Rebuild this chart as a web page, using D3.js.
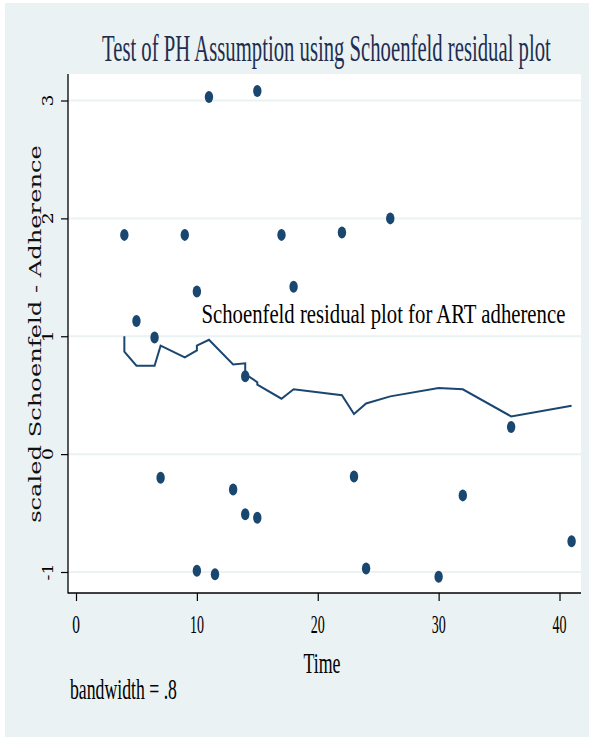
<!DOCTYPE html>
<html><head><meta charset="utf-8">
<script src="https://cdn.jsdelivr.net/npm/d3@7"></script>
<style>body{margin:0;background:#fff}svg{display:block}</style>
</head><body><svg id="c" width="589" height="737"></svg>
<script>
// ---- data ----
const pointTime  = [4, 9, 11, 15, 17, 22, 26, 18, 10, 5, 6.5, 14, 36, 7, 13, 14, 15, 23, 32, 10, 11.5, 24, 30, 41];
const pointResid = [1.86, 1.86, 3.03, 3.08, 1.86, 1.88, 2.0, 1.42, 1.38, 1.13, 0.99, 0.66, 0.23, -0.20, -0.30, -0.51, -0.54, -0.19, -0.35, -0.99, -1.02, -0.97, -1.04, -0.74];
const smoothTime  = [4, 4, 5, 6.5, 7, 9, 10, 10, 11, 13, 14, 14, 15, 15, 17, 18, 22, 23, 24, 26, 30, 32, 36, 41];
const smoothResid = [1.0, 0.87, 0.75, 0.75, 0.92, 0.82, 0.88, 0.92, 0.97, 0.76, 0.77, 0.68, 0.61, 0.59, 0.47, 0.55, 0.50, 0.34, 0.43, 0.49, 0.56, 0.55, 0.32, 0.41];
const xTicks = [0, 10, 20, 30, 40];
const xTickLabels = ["0", "10", "20", "30", "40"];
const yTicks = [-1, 0, 1, 2, 3];
const yTickLabels = ["-1", "0", "1", "2", "3"];
const titleText = "Test of PH Assumption using Schoenfeld residual plot";
const xTitle = "Time";
const yTitle = "scaled Schoenfeld - Adherence";
const annotation = "Schoenfeld residual plot for ART adherence";
const note = "bandwidth = .8";

// ---- drawing ----
const svg = d3.select("#c");
const bg = "#eaf2f3", navy = "#1a476f";
const plot = {l: 68, r: 581, t: 74, b: 593};

svg.append("rect").attr("x", 5).attr("y", 3).attr("width", 584).attr("height", 734).attr("fill", bg);
svg.append("rect").attr("x", plot.l).attr("y", plot.t).attr("width", plot.r - plot.l).attr("height", plot.b - plot.t).attr("fill", "#fff");

const x = d3.scaleLinear().domain([0, 40]).range([76, 559.5]);
const y = d3.scaleLinear().domain([-1, 3]).range([572, 100.5]);

// text helper: natural font gives glyph height; horizontal squeeze via scale to hit target width
function fitText(g, str, opts) {
  const t = g.append("text")
    .attr("font-family", opts.family || "Liberation Serif")
    .attr("font-size", opts.size)
    .attr("fill", opts.fill || "#000")
    .attr("text-anchor", opts.anchor || "start")
    .text(str);
  const w = t.node().getComputedTextLength();
  const sx = opts.width / w;
  t.attr("transform", `translate(${opts.x},${opts.y}) rotate(${opts.rotate || 0}) scale(${sx},1)`);
  return t;
}

// gridlines
svg.append("g").selectAll("line").data(yTicks).join("line")
  .attr("x1", plot.l).attr("x2", plot.r)
  .attr("y1", d => y(d)).attr("y2", d => y(d))
  .attr("stroke", bg).attr("stroke-width", 2);

// axes
const xAxis = d3.axisBottom(x).tickValues(xTicks).tickSize(8).tickFormat(() => "");
const gx = svg.append("g").attr("transform", `translate(0,${plot.b})`).call(xAxis);
gx.select(".domain").remove();
gx.selectAll(".tick line").attr("stroke", "#000").attr("stroke-width", 1.2);
const yAxis = d3.axisLeft(y).tickValues(yTicks).tickSize(7).tickFormat(() => "");
const gy = svg.append("g").attr("transform", `translate(${plot.l},0)`).call(yAxis);
gy.select(".domain").remove();
gy.selectAll(".tick line").attr("stroke", "#000").attr("stroke-width", 1.2);

svg.append("line").attr("x1", plot.l).attr("x2", plot.l).attr("y1", plot.t).attr("y2", plot.b + 0.5)
  .attr("stroke", "#000").attr("stroke-width", 1.3);
svg.append("line").attr("x1", plot.l).attr("x2", plot.r).attr("y1", plot.b).attr("y2", plot.b)
  .attr("stroke", "#000").attr("stroke-width", 1.3);

// x tick labels
const xLabW = {1: 7.7, 2: 14};
const gxl = svg.append("g");
xTicks.forEach((d, i) => fitText(gxl, xTickLabels[i], {x: x(d), y: 633, size: 25, anchor: "middle", width: xLabW[xTickLabels[i].length]}));

// y tick labels (rotated)
const gyl = svg.append("g");
yTicks.forEach((d, i) => fitText(gyl, yTickLabels[i], {x: 53, y: y(d), size: 15, anchor: "middle", rotate: -90,
  family: "DejaVu Serif", width: yTickLabels[i].length === 1 ? 12 : 17}));

// y title
fitText(svg, yTitle, {x: 40.5, y: (145 + 523) / 2, size: 17, anchor: "middle", rotate: -90,
  family: "DejaVu Serif", width: 378, fill: "#111"});

// x title
fitText(svg, xTitle, {x: 322, y: 673, size: 28.5, anchor: "middle", width: 37});

// note
fitText(svg, note, {x: 70, y: 699, size: 29, width: 107});

// title
fitText(svg, titleText, {x: 102, y: 61, size: 37, width: 449, fill: "#1e2d50"});

// smooth line
const line = d3.line().x(d => x(d[0])).y(d => y(d[1]));
svg.append("path").datum(smoothTime.map((t, i) => [t, smoothResid[i]]))
  .attr("d", line).attr("fill", "none").attr("stroke", navy).attr("stroke-width", 2)
  .attr("stroke-linejoin", "miter");

// points
svg.append("g").selectAll("ellipse").data(pointTime.map((t, i) => [t, pointResid[i]])).join("ellipse")
  .attr("cx", d => x(d[0])).attr("cy", d => y(d[1]))
  .attr("rx", 4.2).attr("ry", 6).attr("fill", navy);

// annotation
fitText(svg, annotation, {x: 201.5, y: 323, size: 28, width: 364});
</script></body></html>
